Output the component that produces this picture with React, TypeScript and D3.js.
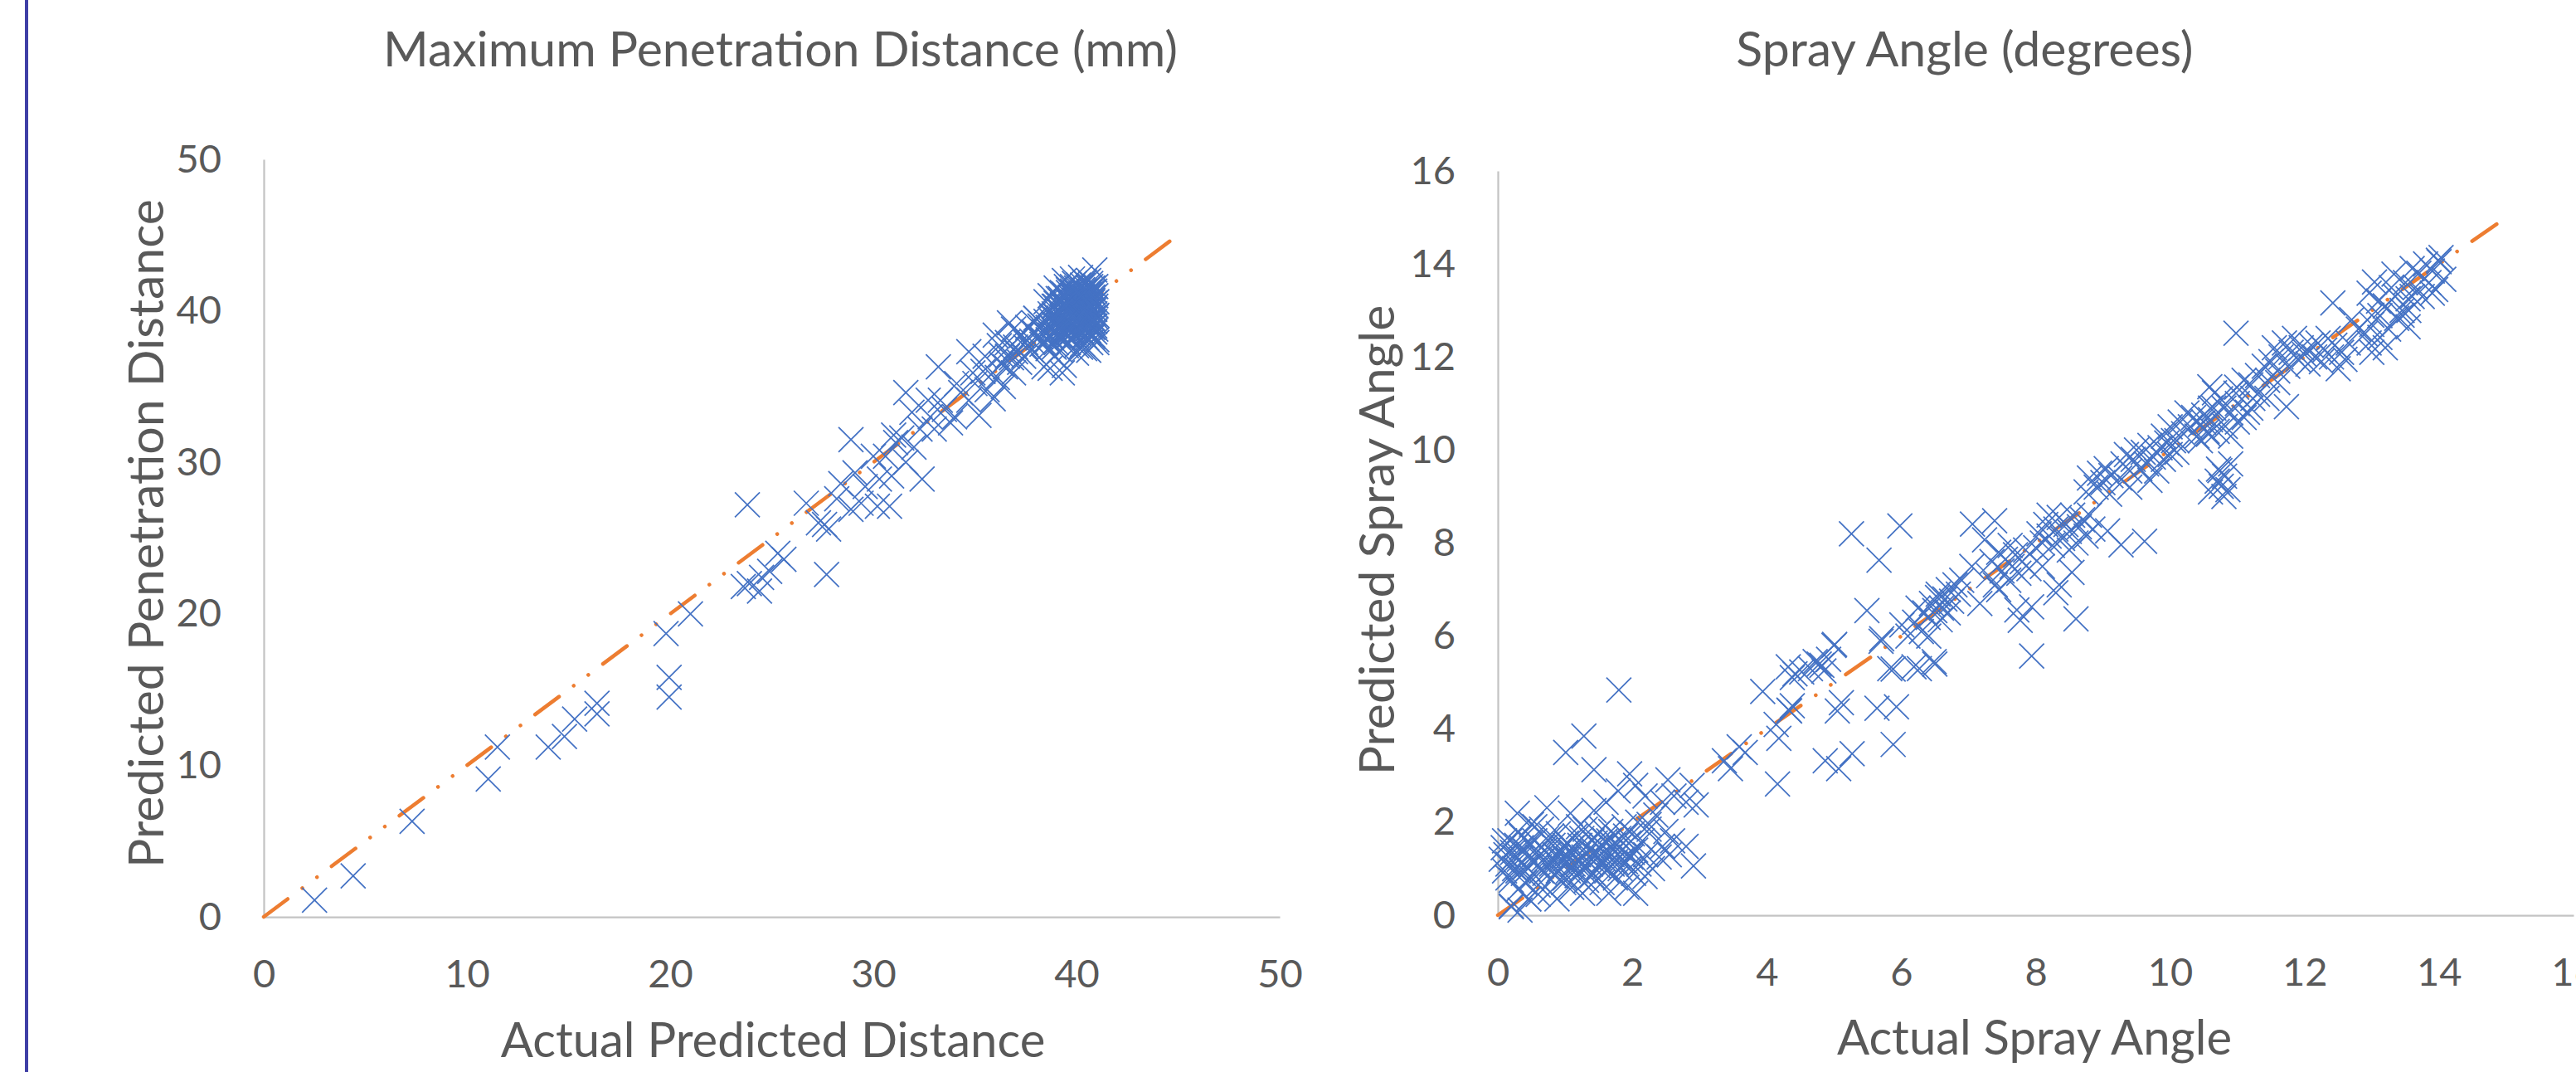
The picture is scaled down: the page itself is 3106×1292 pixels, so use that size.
import { useEffect, useRef } from 'react';
import * as d3 from 'd3';

// Maximum penetration distance: [actual, predicted]
const penetrationPoints: [number, number][] = [
  [2.5, 1.1], [4.4, 2.7], [7.3, 6.3], [11.05, 9.1], [11.5, 11.2], [14.0, 11.2], [14.8, 11.9],
  [15.3, 13.05], [16.4, 13.4], [16.4, 14.1], [19.95, 15.8], [19.95, 14.5], [21.0, 20.0], [19.8, 18.7],
  [23.8, 27.2], [23.6, 21.8], [23.9, 22.0], [24.4, 21.5], [24.5, 22.4], [24.9, 22.8], [25.3, 24.0],
  [25.6, 23.6], [27.7, 22.6], [26.7, 27.3], [27.3, 26.0], [27.6, 25.9], [27.8, 25.6], [28.4, 28.6],
  [28.9, 31.5], [28.9, 26.9], [29.1, 29.3], [29.4, 27.3], [30.2, 27.1], [30.3, 28.9], [30.6, 30.4],
  [30.8, 27.1], [30.9, 29.1], [31.1, 31.3], [31.6, 30.0], [31.6, 34.6], [31.9, 33.3], [32.3, 32.2],
  [32.4, 28.9], [32.7, 34.1], [33.2, 36.3], [33.3, 34.1], [33.8, 32.6], [34.1, 35.2], [34.7, 34.1],
  [34.7, 37.3], [34.9, 35.9], [35.4, 36.0], [35.5, 37.0], [35.6, 34.8], [36.0, 38.4], [36.2, 37.7],
  [36.9, 35.9], [36.9, 38.8], [37.3, 38.4], [37.9, 39.2], [38.0, 39.5], [38.7, 36.2], [39.4, 36.4],
  [40.0, 37.7], [31.0, 31.8], [32.0, 31.0], [32.8, 33.0], [33.5, 33.5], [34.0, 33.0], [34.3, 34.6],
  [35.0, 35.2], [35.8, 35.8], [36.3, 36.5], [36.6, 37.0], [37.0, 37.3], [37.5, 37.6], [37.8, 38.0],
  [33.0, 32.2], [31.4, 31.6], [30.0, 30.4], [29.6, 28.4], [28.2, 27.6], [36.7, 39.2], [35.2, 33.1],
  [35.9, 34.2], [36.4, 35.0], [38.4, 36.3], [39.3, 35.9],
  [38.3, 37.8], [38.4, 38.6], [38.5, 39.3], [38.6, 38.1], [38.7, 39.8], [38.8, 38.9], [38.9, 40.3],
  [38.9, 37.6], [39.0, 39.4], [39.1, 40.8], [39.1, 38.3], [39.2, 39.9], [39.3, 41.2], [39.3, 38.8],
  [39.4, 40.5], [39.5, 39.2], [39.5, 41.6], [39.6, 38.4], [39.6, 40.1], [39.7, 40.9], [39.7, 39.6],
  [39.8, 41.3], [39.8, 38.9], [39.9, 40.4], [39.9, 39.0], [40.0, 41.0], [40.0, 39.7], [40.1, 41.7],
  [40.1, 40.2], [40.1, 38.5], [40.2, 39.4], [40.2, 40.8], [40.3, 41.4], [40.3, 38.9], [40.4, 40.0],
  [40.4, 41.9], [40.4, 39.3], [40.5, 40.6], [40.5, 38.2], [40.6, 41.1], [40.6, 39.8], [40.6, 38.7],
  [40.7, 40.3], [40.7, 41.6], [40.7, 39.1], [40.8, 40.9], [40.8, 39.5], [40.8, 38.4], [40.9, 40.1],
  [40.9, 41.3], [40.9, 39.0], [41.0, 40.6], [41.0, 39.7], [41.0, 38.1], [40.2, 42.2], [40.9, 42.7],
  [40.6, 42.0], [40.4, 37.5], [41.0, 37.9], [39.0, 41.5], [38.7, 41.0], [38.5, 40.6], [39.4, 42.0],
  [39.8, 42.1], [40.3, 37.8], [39.6, 37.9], [38.9, 37.0], [39.2, 37.4], [40.0, 37.2], [40.6, 37.4],
  [38.0, 39.5], [38.1, 38.2], [38.2, 39.0], [37.9, 38.6], [37.8, 37.4], [37.6, 38.9], [37.5, 37.9],
  [37.4, 37.0], [37.3, 38.4], [37.2, 36.6], [37.0, 37.6], [36.8, 36.9], [36.6, 37.9], [36.5, 36.3],
  [36.3, 37.1], [36.1, 35.6],
  [39.0, 38.6], [39.4, 38.5], [39.8, 38.6], [40.2, 38.7], [40.6, 38.5], [40.9, 38.6],
  [39.2, 38.9], [39.6, 38.8], [40.0, 38.9], [40.4, 38.8], [40.8, 38.9],
  [38.9, 39.1], [39.3, 39.1], [39.7, 39.2], [40.1, 39.1], [40.5, 39.2], [40.9, 39.3],
  [39.1, 39.5], [39.5, 39.4], [39.9, 39.5], [40.3, 39.6], [40.7, 39.4],
  [38.9, 39.8], [39.3, 39.7], [39.7, 39.9], [40.1, 39.8], [40.5, 39.9], [40.9, 39.8],
  [39.1, 40.1], [39.5, 40.2], [39.9, 40.1], [40.3, 40.2], [40.7, 40.1],
  [39.0, 40.5], [39.3, 40.4], [39.7, 40.5], [40.1, 40.5], [40.5, 40.4], [40.9, 40.5],
  [39.2, 40.8], [39.6, 40.8], [40.0, 40.7], [40.4, 40.8], [40.8, 40.7],
  [39.4, 41.1], [39.8, 41.0], [40.2, 41.1], [40.6, 41.2], [40.95, 41.0],
  [39.6, 41.4], [40.0, 41.5], [40.4, 41.3], [40.8, 41.5],
  [39.9, 41.8], [40.3, 41.7], [40.7, 41.8],
  [38.6, 38.9], [38.8, 39.6], [38.7, 38.4], [38.4, 37.9], [38.2, 38.3], [38.6, 37.5], [39.0, 37.9],
  [39.5, 37.7], [40.2, 37.6], [40.7, 37.9],
  [39.2, 38.35], [39.6, 38.3], [40.0, 38.4], [40.4, 38.35], [40.8, 38.3],
  [38.9, 38.7], [39.3, 38.65], [39.7, 38.75], [40.1, 38.7], [40.5, 38.75], [40.95, 38.8],
  [39.1, 39.0], [39.5, 39.05], [39.9, 39.0], [40.3, 39.05], [40.7, 39.0],
  [38.8, 39.3], [39.2, 39.3], [39.6, 39.35], [40.0, 39.3], [40.4, 39.3], [40.8, 39.25],
  [39.0, 39.6], [39.4, 39.6], [39.8, 39.65], [40.2, 39.6], [40.6, 39.6], [40.95, 39.6],
  [39.2, 39.95], [39.6, 40.0], [40.0, 39.95], [40.4, 39.95], [40.8, 40.0],
  [38.95, 40.3], [39.4, 40.3], [39.8, 40.3], [40.2, 40.35], [40.6, 40.3], [40.95, 40.3],
  [39.2, 40.65], [39.6, 40.6], [40.0, 40.6], [40.4, 40.65], [40.8, 40.6],
  [39.5, 40.95], [39.9, 40.9], [40.3, 40.95], [40.7, 41.0],
  [39.6, 41.2], [40.0, 41.25], [40.4, 41.2], [40.8, 41.25],
  [39.8, 41.6], [40.2, 41.55], [40.6, 41.5], [40.95, 41.6],
];

// Spray angle: [actual, predicted]
const sprayPoints: [number, number][] = [
  [0.05, 1.2], [0.08, 1.45], [0.1, 0.95], [0.12, 1.3], [0.15, 1.1], [0.18, 1.6], [0.2, 0.75], [0.2, 0.2],
  [0.22, 1.35], [0.25, 1.0], [0.28, 1.5], [0.29, 2.19], [0.3, 0.55], [0.32, 1.2], [0.33, 0.11], [0.35, 1.7],
  [0.38, 0.9], [0.4, 1.4], [0.42, 1.05], [0.45, 1.25], [0.46, 0.35], [0.48, 1.55], [0.5, 0.8], [0.52, 1.15],
  [0.55, 1.9], [0.57, 1.35], [0.6, 0.65], [0.62, 1.05], [0.65, 1.45], [0.68, 1.2], [0.7, 0.9], [0.72, 1.65],
  [0.73, 2.31], [0.75, 1.3], [0.78, 0.5], [0.8, 1.1], [0.82, 1.5], [0.85, 0.85], [0.88, 0.35], [0.88, 1.25],
  [0.9, 1.75], [0.92, 1.0], [0.95, 1.4], [0.98, 0.7], [1.0, 1.2], [1.02, 1.55], [1.05, 0.95], [1.08, 2.19],
  [1.08, 1.35], [1.1, 0.6], [1.12, 1.1], [1.15, 1.7], [1.18, 0.85], [1.2, 1.3], [1.22, 1.5], [1.25, 1.0],
  [1.26, 0.47], [1.28, 1.25], [1.3, 1.85], [1.32, 0.75], [1.35, 1.4], [1.38, 1.1], [1.4, 1.6], [1.43, 2.25],
  [1.42, 0.9], [1.45, 1.3], [1.48, 1.75], [1.5, 1.05], [1.52, 1.45], [1.55, 0.7], [1.58, 1.2], [1.6, 1.6],
  [1.61, 2.43], [1.62, 0.95], [1.65, 0.47], [1.65, 1.35], [1.68, 1.8], [1.7, 1.1], [1.72, 1.5], [1.75, 0.8],
  [1.78, 1.3], [1.79, 2.67], [1.8, 1.65], [1.82, 1.0], [1.85, 1.4], [1.88, 1.9], [1.9, 1.15], [1.92, 0.6],
  [1.95, 1.55], [1.98, 1.25], [2.0, 1.75], [2.02, 0.9], [2.05, 0.47], [2.05, 1.4], [2.08, 2.0], [2.1, 1.1],
  [2.15, 1.6], [2.19, 0.83], [2.19, 2.56], [2.2, 1.3], [2.25, 1.85], [2.3, 1.0], [1.8, 4.84], [1.28, 3.85],
  [1.01, 3.5], [1.43, 3.13], [1.96, 3.04], [0.2, 0.18], [0.46, 0.35],
  [0.1, 1.6], [0.15, 0.8], [0.25, 1.25], [0.35, 1.45], [0.4, 0.7], [0.45, 1.0], [0.55, 1.6], [0.6, 1.25],
  [0.65, 0.95], [0.7, 1.4], [0.75, 1.1], [0.8, 1.7], [0.85, 1.3], [0.9, 0.95], [0.95, 1.2], [1.0, 1.5],
  [1.05, 1.2], [1.1, 1.45], [1.15, 0.95], [1.2, 1.15], [1.25, 1.65], [1.3, 1.05], [1.35, 1.25], [1.4, 0.85],
  [1.45, 1.55], [1.5, 1.25], [1.55, 1.5], [1.6, 1.05], [1.65, 1.6], [1.7, 1.3], [1.75, 1.15], [1.8, 1.45],
  [1.85, 1.2], [1.9, 1.7], [1.95, 1.0], [2.0, 1.35], [0.3, 1.8], [0.5, 1.95], [0.65, 1.85], [1.2, 1.9],
  [1.55, 1.85], [1.0, 0.8], [0.3, 0.95], [0.6, 0.45], [1.35, 0.6],
  [2.4, 1.25], [2.45, 1.48], [2.45, 2.43], [2.53, 2.91], [2.62, 2.56], [2.8, 2.43], [2.8, 1.48], [2.89, 2.79],
  [2.91, 1.06], [2.95, 2.37], [2.05, 2.79], [2.25, 1.95], [2.35, 2.15], [2.5, 1.8], [2.6, 1.6], [2.55, 1.3],
  [3.37, 3.32], [3.46, 3.15], [3.59, 3.62], [3.68, 3.5], [3.94, 4.81], [4.14, 4.1], [4.16, 2.82], [4.18, 3.8],
  [4.32, 5.34], [4.34, 4.39], [4.38, 4.5], [4.38, 5.11], [4.52, 5.23], [4.65, 5.3], [4.72, 5.45], [4.78, 5.4],
  [4.85, 5.25], [4.92, 5.5], [4.87, 3.32], [5.0, 5.8], [5.05, 4.39], [5.07, 3.15], [5.11, 4.57], [5.27, 3.47],
  [5.49, 6.55], [5.64, 4.45], [5.71, 5.94], [5.88, 5.29], [5.88, 3.67], [5.93, 4.48], [6.01, 6.24], [6.19, 5.34],
  [6.41, 6.0], [6.5, 5.4], [6.54, 6.83], [5.26, 8.2], [5.98, 8.37], [5.67, 7.63], [5.7, 5.89], [5.83, 5.3],
  [6.27, 5.3], [6.49, 5.45], [5.01, 5.82], [4.82, 5.37], [4.42, 5.19], [4.33, 4.41],
  [6.1, 6.0], [6.2, 6.3], [6.3, 6.1], [6.35, 6.5], [6.4, 6.4], [6.45, 6.7], [6.5, 6.55], [6.55, 6.9],
  [6.6, 6.6], [6.65, 6.8], [6.7, 7.0], [6.75, 6.75], [6.8, 7.1], [6.85, 6.9], [6.9, 7.2], [6.58, 6.35],
  [6.25, 6.6], [6.7, 6.5],
  [7.05, 7.5], [7.17, 6.7], [7.24, 8.07], [7.3, 7.3], [7.35, 7.6], [7.4, 7.1], [7.45, 7.8], [7.5, 7.4],
  [7.55, 7.65], [7.6, 7.2], [7.62, 7.95], [7.65, 7.5], [7.7, 7.75], [7.75, 7.35], [7.8, 7.6], [7.85, 7.85],
  [7.9, 7.45], [7.06, 8.41], [7.39, 8.48], [7.45, 7.0],
  [8.0, 7.9], [8.05, 8.2], [8.1, 8.0], [8.15, 8.4], [8.2, 8.15], [8.25, 7.95], [8.3, 8.3], [8.35, 8.55],
  [8.4, 8.1], [8.45, 8.4], [8.5, 8.25], [8.55, 8.6], [8.6, 8.0], [8.65, 8.35], [8.7, 8.5], [8.75, 8.15],
  [8.8, 8.6], [8.85, 8.3], [8.2, 8.6], [8.5, 7.85],
  [7.94, 5.57], [8.6, 6.37], [7.77, 6.34], [7.72, 6.56], [7.94, 6.63], [8.54, 7.37], [8.3, 6.93], [9.07, 8.26],
  [9.27, 7.96], [9.62, 8.04], [8.1, 7.5], [8.35, 7.1],
  [8.75, 9.1], [8.8, 9.4], [8.9, 9.2], [8.95, 9.5], [9.0, 9.3], [9.05, 9.6], [9.1, 9.05], [9.12, 9.45],
  [9.25, 9.4], [9.3, 9.7], [9.35, 9.9], [9.4, 9.55], [9.45, 9.8], [9.5, 10.0], [9.55, 9.6], [9.6, 9.95],
  [9.65, 9.7], [9.7, 10.1], [9.75, 9.85], [9.8, 9.55], [9.85, 10.05], [9.9, 9.8], [9.95, 10.15], [10.0, 9.9],
  [10.05, 10.2], [10.1, 9.95], [9.4, 9.2], [9.7, 9.35],
  [9.9, 10.3], [10.0, 10.5], [10.1, 10.2], [10.15, 10.6], [10.2, 10.35], [10.3, 10.5], [10.35, 10.7], [10.4, 10.3],
  [10.45, 10.55], [10.5, 10.75], [10.55, 10.4], [10.6, 10.65], [10.65, 10.9], [10.25, 10.8],
  [10.72, 9.59], [10.76, 9.22], [10.81, 9.44], [10.59, 11.36], [10.98, 11.22], [10.98, 12.51], [10.66, 11.23],
  [10.57, 10.34], [10.82, 10.51], [10.74, 9.56], [10.86, 9.15], [10.7, 9.33], [11.15, 10.81], [11.23, 11.11],
  [11.44, 11.11], [11.73, 10.93], [10.99, 11.35], [10.9, 10.8], [11.0, 11.0], [10.8, 10.9],
  [10.6, 9.1], [10.9, 9.7], [10.8, 9.0], [10.5, 10.6], [10.6, 10.9], [10.7, 10.4], [10.9, 10.3], [11.0, 10.6],
  [11.1, 10.7], [11.2, 10.9], [11.3, 11.2], [10.45, 10.2], [10.75, 11.1],
  [11.45, 11.5], [11.5, 11.9], [11.55, 12.2], [11.6, 11.7], [11.65, 12.0], [11.7, 12.3], [11.75, 11.8],
  [11.8, 12.1], [11.85, 12.4], [11.9, 11.95], [11.95, 12.2], [12.0, 12.05], [12.05, 11.85], [12.1, 12.25],
  [12.15, 12.0], [12.2, 12.3], [12.25, 11.9], [12.3, 12.15], [12.35, 12.4], [12.4, 12.0], [12.45, 12.25],
  [12.5, 11.75], [12.55, 12.1], [12.6, 11.95], [12.65, 12.3], [11.6, 11.45], [11.4, 11.8], [11.3, 11.6],
  [11.2, 11.4], [11.1, 11.5],
  [12.42, 13.16], [12.96, 13.37], [13.04, 13.61], [13.29, 13.49], [13.12, 12.89], [13.37, 12.83], [13.12, 12.42],
  [13.54, 12.65], [12.96, 12.3], [13.54, 13.25], [13.9, 13.37], [14.07, 13.67], [13.33, 13.78], [13.6, 13.9],
  [13.7, 13.8], [13.8, 14.0], [13.9, 13.85], [14.0, 14.05], [13.99, 14.08], [14.03, 14.14], [13.5, 13.6],
  [13.65, 13.5], [13.75, 13.3], [13.85, 13.6], [13.95, 13.45], [13.2, 13.1], [13.45, 13.0], [12.8, 12.6],
  [12.7, 12.8], [13.0, 12.7], [12.9, 12.5], [13.0, 12.9], [13.1, 13.2], [13.25, 12.6], [13.35, 13.3],
  [13.45, 12.9], [13.55, 13.0], [13.6, 13.3], [13.2, 12.2], [13.0, 12.1],
];

const penetrationTicks = [0, 10, 20, 30, 40, 50];
const sprayTicks = [0, 2, 4, 6, 8, 10, 12, 14, 16];
const penetrationTrendEnd = 44.6;
const sprayTrendEnd = 14.9;

const FONT = 'Lato, "Open Sans", sans-serif';
const TEXT = '#595959';
const AXIS = '#C4C4C4';
const BLUE = '#4472C4';
const ORANGE = '#ED7D31';

type Panel = {
  points: [number, number][];
  ticks: number[];
  max: number;
  trendEnd: number;
  left: number;
  right: number;
  top: number;
  bottom: number;
  title: string;
  titleX: number;
  xTitle: string;
  xTitleX: number;
  xTitleY: number;
  yTitle: string;
  yTitleX: number;
  yTitleY: number;
};

const panels: Panel[] = [
  {
    points: penetrationPoints, ticks: penetrationTicks, max: 50, trendEnd: penetrationTrendEnd,
    left: 318, right: 1543, top: 192, bottom: 1105,
    title: 'Maximum Penetration Distance (mm)', titleX: 941,
    xTitle: 'Actual Predicted Distance', xTitleX: 932, xTitleY: 1274,
    yTitle: 'Predicted Penetration Distance', yTitleX: 197, yTitleY: 643,
  },
  {
    points: sprayPoints, ticks: sprayTicks, max: 16, trendEnd: sprayTrendEnd,
    left: 1806, right: 3103, top: 206, bottom: 1103,
    title: 'Spray Angle (degrees)', titleX: 2369,
    xTitle: 'Actual Spray Angle', xTitleX: 2453, xTitleY: 1271,
    yTitle: 'Predicted Spray Angle', yTitleX: 1681, yTitleY: 651,
  },
];

const drawPanel = (svg: d3.Selection<SVGSVGElement, unknown, null, undefined>, p: Panel) => {
  const x = d3.scaleLinear().domain([0, p.max]).range([p.left, p.right]);
  const y = d3.scaleLinear().domain([0, p.max]).range([p.bottom, p.top]);

  const gx = svg.append('g')
    .attr('transform', `translate(0,${p.bottom})`)
    .call(d3.axisBottom(x).tickValues(p.ticks).tickSize(0).tickSizeOuter(0).tickPadding(52));
  const gy = svg.append('g')
    .attr('transform', `translate(${p.left},0)`)
    .call(d3.axisLeft(y).tickValues(p.ticks).tickSize(0).tickSizeOuter(0).tickPadding(51));

  [gx, gy].forEach(g => {
    g.attr('font-family', FONT).attr('font-size', 47);
    g.select('.domain').attr('stroke', AXIS).attr('stroke-width', 2.25);
    g.selectAll('text').attr('fill', TEXT);
  });

  // trendline
  const line = d3.line<number>().x(d => x(d)).y(d => y(d));
  svg.append('path')
    .datum([0, p.trendEnd])
    .attr('d', line)
    .attr('fill', 'none')
    .attr('stroke', ORANGE)
    .attr('stroke-width', 4.5)
    .attr('stroke-linecap', 'round')
    .attr('stroke-dasharray', '36 22 0.01 22 0.01 22');

  const h = 15;
  svg.append('g')
    .selectAll('path')
    .data(p.points)
    .join('path')
    .attr('transform', d => `translate(${x(d[0])},${y(d[1])})`)
    .attr('d', `M${-h},${-h}L${h},${h}M${-h},${h}L${h},${-h}`)
    .attr('stroke', BLUE)
    .attr('stroke-width', 1.75)
    .attr('fill', 'none');

  svg.append('text')
    .attr('x', p.titleX).attr('y', 80)
    .attr('text-anchor', 'middle')
    .attr('font-family', FONT).attr('font-size', 59).attr('fill', TEXT)
    .text(p.title);

  svg.append('text')
    .attr('x', p.xTitleX).attr('y', p.xTitleY)
    .attr('text-anchor', 'middle')
    .attr('font-family', FONT).attr('font-size', 58).attr('fill', TEXT)
    .text(p.xTitle);

  svg.append('text')
    .attr('transform', `translate(${p.yTitleX},${p.yTitleY}) rotate(-90)`)
    .attr('text-anchor', 'middle')
    .attr('font-family', FONT).attr('font-size', 59).attr('fill', TEXT)
    .text(p.yTitle);
};

const App = () => {
  const ref = useRef<SVGSVGElement>(null);

  useEffect(() => {
    const svg = d3.select(ref.current!);
    svg.selectAll('*').remove();

    svg.append('rect').attr('width', 3106).attr('height', 1292).attr('fill', '#fff');
    svg.append('rect').attr('x', 30).attr('y', 0).attr('width', 4).attr('height', 1292).attr('fill', '#3F3FA6');

    panels.forEach(p => drawPanel(svg, p));
  }, []);

  return (
    <svg
      ref={ref}
      width={3106}
      height={1292}
      style={{ position: 'absolute', left: 0, top: 0, display: 'block' }}
    />
  );
};

export default App;
